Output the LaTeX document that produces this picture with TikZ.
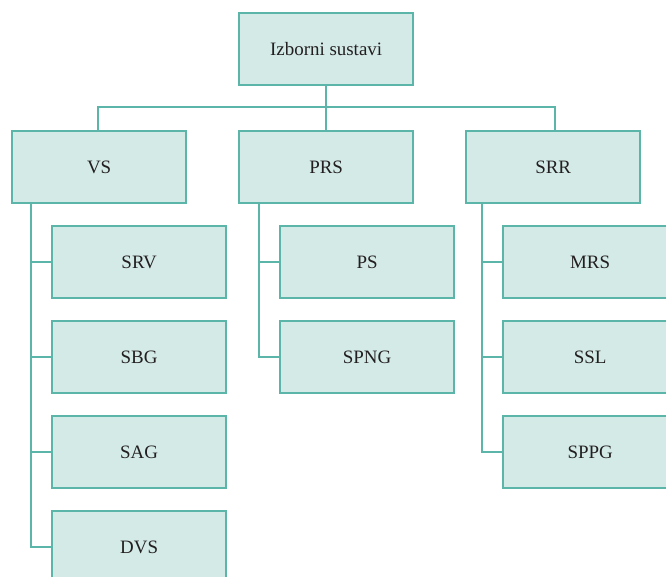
\documentclass[tikz,border=0pt]{standalone}
\usepackage{fontspec}
\setmainfont{Liberation Serif}
\definecolor{boxfill}{HTML}{D3EAE7}
\definecolor{boxline}{HTML}{5BB5A8}
\definecolor{txt}{HTML}{231F20}
\tikzset{
  box/.style={draw=boxline, fill=boxfill, line width=1.7pt, minimum width=174*0.75pt, minimum height=72*0.75pt, inner sep=0pt, text=txt, font=\fontsize{14.2}{16}\selectfont, anchor=north west},
  conn/.style={draw=boxline, line width=1.1pt}
}
\begin{document}
\begin{tikzpicture}[x=0.75pt,y=-0.75pt]
\useasboundingbox (0,0) rectangle (666,576);
\clip (0,0) rectangle (666,576);
\coordinate (bl) at (98,107);
\coordinate (br) at (555,107);
\node[box] (root) at (238,12) {Izborni sustavi};
\node[box] (vs) at (11,130) {VS};
\node[box] (prs) at (238,130) {PRS};
\node[box] (srr) at (465,130) {SRR};
\node[box] (srv) at (51,225) {SRV};
\node[box] (sbg) at (51,320) {SBG};
\node[box] (sag) at (51,415) {SAG};
\node[box] (dvs) at (51,510) {DVS};
\node[box] (ps) at (279,225) {PS};
\node[box] (spng) at (279,320) {SPNG};
\node[box] (mrs) at (502,225) {MRS};
\node[box] (ssl) at (502,320) {SSL};
\node[box] (sppg) at (502,415) {SPPG};
\draw[conn] (root.south) -- (prs.north);
\draw[conn] (bl |- vs.north) -- (bl) -- (br) -- (br |- srr.north);
\draw[conn] ([xshift=20*0.75pt]vs.south west) |- (srv.west);
\draw[conn] ([xshift=20*0.75pt]vs.south west) |- (sbg.west);
\draw[conn] ([xshift=20*0.75pt]vs.south west) |- (sag.west);
\draw[conn] ([xshift=20*0.75pt]vs.south west) |- (dvs.west);
\draw[conn] ([xshift=21*0.75pt]prs.south west) |- (ps.west);
\draw[conn] ([xshift=21*0.75pt]prs.south west) |- (spng.west);
\draw[conn] ([xshift=17*0.75pt]srr.south west) |- (mrs.west);
\draw[conn] ([xshift=17*0.75pt]srr.south west) |- (ssl.west);
\draw[conn] ([xshift=17*0.75pt]srr.south west) |- (sppg.west);
\end{tikzpicture}
\end{document}
